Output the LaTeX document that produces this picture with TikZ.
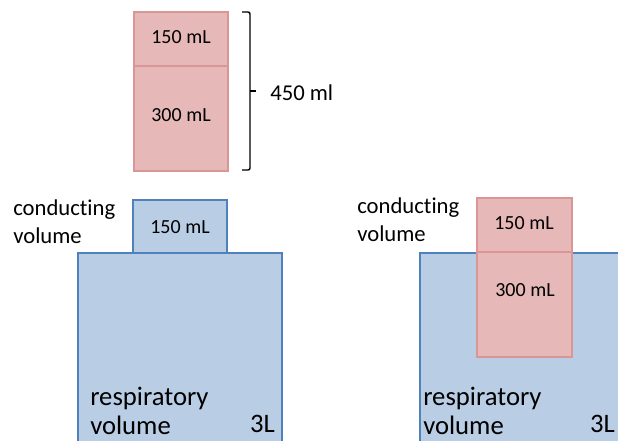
\documentclass[tikz,border=0pt]{standalone}
\usepackage{fontspec}
\setmainfont{Carlito}[RawFeature={-liga;-dlig}]
\definecolor{pinkfill}{HTML}{E6B9B8}
\definecolor{pinkline}{HTML}{D99694}
\definecolor{bluefill}{HTML}{B9CDE5}
\definecolor{blueline}{HTML}{4F81BD}
\begin{document}
\begin{tikzpicture}[x=0.75pt, y=-0.75pt,
  pinkbox/.style={shape=rectangle, draw=pinkline, fill=pinkfill, line width=0.9pt, inner sep=0pt},
  bluebox/.style={shape=rectangle, draw=blueline, fill=bluefill, line width=0.8pt, inner sep=0pt},
  vol/.style={inner sep=0pt, font=\fontsize{15}{18}\selectfont},
  lbl/.style={inner sep=0pt, align=left, font=\fontsize{17}{21}\selectfont},
  big/.style={inner sep=0pt, align=left, font=\fontsize{20}{22}\selectfont}]
\clip (0,0) rectangle (618,440);

% top stack
\node[pinkbox, minimum width=94*0.75pt, minimum height=54*0.75pt] (T150) at (181,39){};
\node[pinkbox, minimum width=94*0.75pt, minimum height=105*0.75pt] (T300) at (181,118.5){};
\node[vol] (t150) at (181,37){150 mL};
\node[vol] (t300) at (181,115){300 mL};
\coordinate (Btop) at (242,12);
\coordinate (Bmid) at (256,91);
\coordinate (Bbot) at (242,170);
\draw[line width=1.1pt, rounded corners=1.5pt] (Btop) -- (250,12) -- (250,170) -- (Bbot);
\draw[line width=1.1pt] (250,91) -- (Bmid);
\node[lbl, anchor=base west] (total) at (270,100){450 ml};

% left lung
\node[bluebox, minimum width=204*0.75pt, minimum height=207*0.75pt] (LR) at (180,356.5){};
\node[bluebox, minimum width=94*0.75pt, minimum height=53*0.75pt] (LC) at (180,226.5){};
\node[vol] (l150) at (180,227){150 mL};
\node[lbl, anchor=north west] (lcond) at (13,199){conducting\\volume};
\node[big, anchor=north west] (lresp) at (90,387){respiratory\\volume};
\node[big, anchor=base east] (l3L) at (275,432){3L};

% right lung
\node[bluebox, minimum width=220*0.75pt, minimum height=207*0.75pt] (RR) at (530,356.5){};
\node[pinkbox, minimum width=95*0.75pt, minimum height=54*0.75pt] (R150) at (524.5,225){};
\node[pinkbox, minimum width=95*0.75pt, minimum height=105*0.75pt] (R300) at (524.5,304.5){};
\node[vol] (r150) at (524,223){150 mL};
\node[vol] (r300) at (525,290){300 mL};
\node[lbl, anchor=north west] (rcond) at (357,197){conducting\\volume};
\node[big, anchor=north west] (rresp) at (423,387){respiratory\\volume};
\node[big, anchor=base east] (r3L) at (615,432){3L};

\end{tikzpicture}
\end{document}
